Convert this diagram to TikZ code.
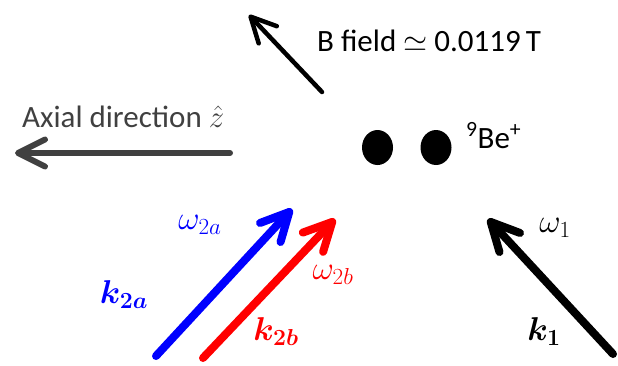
\RequirePackage{fix-cm}
\documentclass[tikz,border=0pt]{standalone}
\usepackage{amsmath,bm}
\usepackage{fontspec}
\setmainfont{Carlito}
\usetikzlibrary{arrows.meta,shapes.geometric}
\definecolor{axgray}{HTML}{404040}
\definecolor{pblue}{HTML}{0000FF}
\definecolor{pred}{HTML}{FF0000}
\tikzset{
  lbl/.style={inner sep=0pt, font=\fontsize{31}{37}\selectfont},
  mlbl/.style={inner sep=0pt, font=\fontsize{33}{39}\selectfont},
  barb/.style={line cap=round, -{Straight Barb[length=#1, width=#1, line cap=round, line join=round]}},
  ion/.style={ellipse, fill=black, minimum width=31pt, minimum height=35pt, inner sep=0pt},
}
\begin{document}
\begin{tikzpicture}[x=1pt,y=-1pt]
\useasboundingbox (0,0) rectangle (618,365);
% B field
\coordinate (btail) at (322,92);
\coordinate (bhead) at (249,15);
\draw[line width=4.5pt, barb=25pt] (btail) -- (bhead);
\node[lbl, anchor=base west] (btext) at (317,51) {B field $\simeq$ 0.0119\,T};
% axial
\coordinate (atail) at (230,153);
\coordinate (ahead) at (15,153);
\draw[axgray, line width=6pt, barb=27pt] (atail) -- (ahead);
\node[lbl, anchor=base west, text=axgray] (atext) at (22,127) {Axial direction $\hat{z}$};
% ions
\node[ion] (ion1) at (377.5,147.5) {};
\node[ion] (ion2) at (436,147.5) {};
\node[lbl, anchor=base west] (be) at (466,148) {\textsuperscript{9}Be\textsuperscript{+}};
% k2a
\coordinate (k2at) at (156,356);
\coordinate (k2ah) at (292,209);
\draw[pblue, line width=8pt, barb=28pt] (k2at) -- (k2ah);
\node[mlbl, text=pblue] (w2a) at (200,225) {$\omega_{2a}$};
\node[mlbl, text=pblue] (k2al) at (124,295) {$\bm{k_{2a}}$};
% k2b
\coordinate (k2bt) at (203,358);
\coordinate (k2bh) at (335,219);
\draw[pred, line width=8pt, barb=28pt] (k2bt) -- (k2bh);
\node[mlbl, text=pred] (w2b) at (333,275) {$\omega_{2b}$};
\node[mlbl, text=pred] (k2bl) at (276,332) {$\bm{k_{2b}}$};
% k1
\coordinate (k1t) at (613,354);
\coordinate (k1h) at (488,219);
\draw[line width=8pt, barb=28pt] (k1t) -- (k1h);
\node[mlbl] (w1) at (555,228) {$\omega_1$};
\node[mlbl] (k1l) at (544,332) {$\bm{k_1}$};
\end{tikzpicture}
\end{document}
